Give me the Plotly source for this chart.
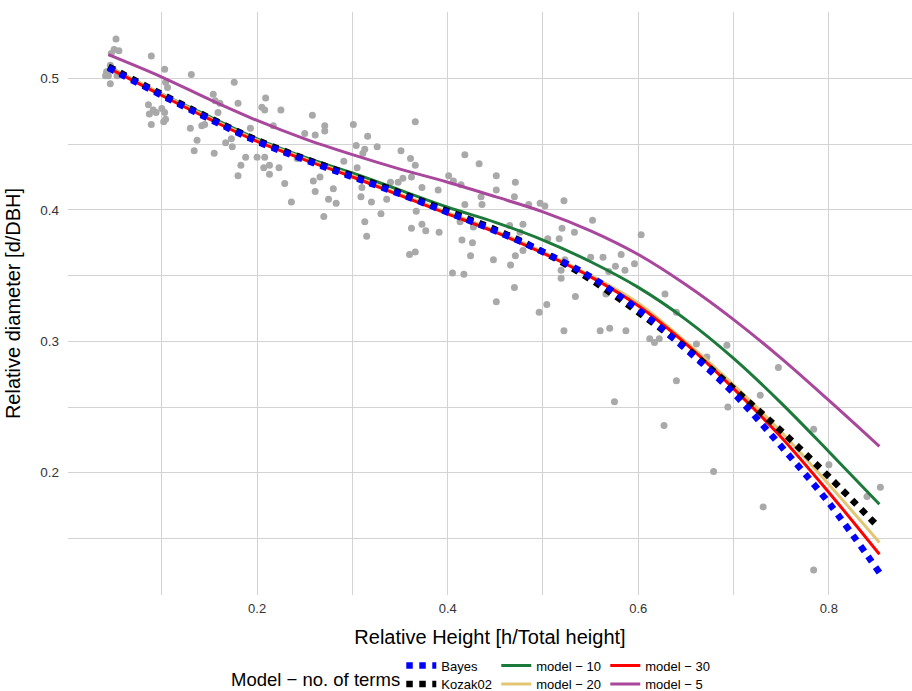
import plotly.graph_objects as go

# ---------------- data ----------------
obs_x = [0.052, 0.050, 0.055, 0.047, 0.046, 0.042, 0.044, 0.046, 0.041, 0.049, 0.053,
         0.089, 0.103, 0.131, 0.176, 0.104, 0.106, 0.086, 0.091, 0.087, 0.094, 0.100,
         0.103, 0.104, 0.102, 0.089, 0.154, 0.156, 0.161, 0.180, 0.159, 0.205, 0.208,
         0.209, 0.225, 0.217, 0.130, 0.142, 0.145, 0.137, 0.134, 0.155, 0.167, 0.173,
         0.174, 0.193, 0.188, 0.200, 0.208, 0.183, 0.180, 0.207, 0.213, 0.213, 0.223,
         0.229, 0.236,
         0.258, 0.271, 0.271, 0.261, 0.250, 0.301, 0.366, 0.316, 0.304, 0.313, 0.326,
         0.311, 0.351, 0.361, 0.366, 0.418, 0.433, 0.451, 0.291, 0.305, 0.242, 0.266,
         0.259, 0.261, 0.280, 0.275, 0.283, 0.270, 0.310, 0.309, 0.320, 0.336, 0.340,
         0.348, 0.353, 0.362, 0.373, 0.390, 0.401, 0.406, 0.414, 0.435, 0.436, 0.451,
         0.418, 0.367, 0.330, 0.313, 0.315, 0.362, 0.373, 0.377, 0.391, 0.413, 0.427,
         0.415, 0.426, 0.360, 0.366, 0.424, 0.448, 0.405, 0.417,
         0.471, 0.470, 0.485, 0.497, 0.502, 0.522, 0.552, 0.465, 0.479, 0.476, 0.520,
         0.533, 0.505, 0.517, 0.603, 0.479, 0.471, 0.466, 0.523, 0.550, 0.563, 0.582,
         0.576, 0.586, 0.596, 0.519, 0.519, 0.569, 0.470, 0.451, 0.534, 0.566, 0.504,
         0.496, 0.628, 0.640, 0.522, 0.560, 0.570, 0.587, 0.612, 0.617, 0.622, 0.661,
         0.672, 0.640, 0.575,
         0.693, 0.627, 0.679, 0.694, 0.728, 0.747, 0.731, 0.784, 0.800, 0.840, 0.854,
         0.784]
obs_y = [0.530, 0.522, 0.521, 0.519, 0.510, 0.505, 0.502, 0.496, 0.502, 0.507, 0.502,
         0.517, 0.507, 0.503, 0.497, 0.497, 0.493, 0.480, 0.476, 0.473, 0.474, 0.477,
         0.474, 0.469, 0.467, 0.465, 0.488, 0.483, 0.481, 0.481, 0.474, 0.478, 0.476,
         0.485, 0.476, 0.464, 0.462, 0.464, 0.465, 0.453, 0.445, 0.443, 0.451, 0.454,
         0.448, 0.462, 0.440, 0.440, 0.440, 0.434, 0.426, 0.432, 0.427, 0.434, 0.432,
         0.420, 0.406,
         0.472, 0.464, 0.460, 0.457, 0.458, 0.465, 0.467, 0.456, 0.449, 0.446, 0.448,
         0.443, 0.445, 0.439, 0.434, 0.442, 0.435, 0.426, 0.437, 0.432, 0.439, 0.425,
         0.422, 0.414, 0.416, 0.408, 0.405, 0.395, 0.417, 0.410, 0.406, 0.408, 0.421,
         0.421, 0.424, 0.425, 0.417, 0.415, 0.426, 0.422, 0.419, 0.410, 0.404, 0.415,
         0.404, 0.399, 0.397, 0.391, 0.380, 0.386, 0.389, 0.384, 0.383, 0.391, 0.387,
         0.377, 0.375, 0.366, 0.368, 0.365, 0.362, 0.352, 0.351,
         0.421, 0.410, 0.404, 0.405, 0.403, 0.407, 0.392, 0.388, 0.389, 0.383, 0.386,
         0.383, 0.378, 0.378, 0.381, 0.369, 0.365, 0.358, 0.362, 0.364, 0.364, 0.366,
         0.357, 0.354, 0.359, 0.354, 0.348, 0.353, 0.341, 0.330, 0.334, 0.336, 0.328,
         0.322, 0.336, 0.322, 0.308, 0.308, 0.310, 0.308, 0.302, 0.299, 0.302, 0.298,
         0.288, 0.270, 0.254,
         0.297, 0.236, 0.201, 0.250, 0.259, 0.280, 0.174, 0.233, 0.206, 0.182, 0.189,
         0.126]

curve_x = [0.044, 0.1, 0.15, 0.2, 0.25, 0.3, 0.35, 0.4, 0.45, 0.5, 0.55, 0.6,
           0.65, 0.7, 0.75, 0.8, 0.853]
bayes = [0.508, 0.487, 0.469, 0.452, 0.438, 0.425, 0.412, 0.398, 0.384, 0.368, 0.349,
         0.324, 0.294, 0.2605, 0.220, 0.177, 0.124]
kozak02 = [0.509, 0.488, 0.470, 0.453, 0.439, 0.426, 0.413, 0.399, 0.385, 0.368, 0.347,
           0.322, 0.295, 0.264, 0.2318, 0.197, 0.158]
model_10 = [0.509, 0.488, 0.471, 0.454, 0.440, 0.428, 0.415, 0.402, 0.3905, 0.377, 0.3605,
            0.341, 0.3165, 0.287, 0.253, 0.216, 0.176]
model_20 = [0.509, 0.488, 0.470, 0.453, 0.439, 0.426, 0.412, 0.398, 0.384, 0.368, 0.350,
            0.329, 0.2995, 0.2668, 0.231, 0.191, 0.147]
model_30 = [0.508, 0.487, 0.469, 0.452, 0.438, 0.425, 0.411, 0.397, 0.383, 0.367, 0.349,
            0.327, 0.298, 0.264, 0.227, 0.185, 0.138]
model_5 = [0.518, 0.501, 0.484, 0.468, 0.454, 0.442, 0.431, 0.421, 0.410, 0.3985, 0.384,
           0.366, 0.343, 0.3165, 0.287, 0.255, 0.220]

x_ticks = [0.2, 0.4, 0.6, 0.8]
x_tick_labels = ["0.2", "0.4", "0.6", "0.8"]
x_minor = [0.1, 0.3, 0.5, 0.7]
y_ticks = [0.2, 0.3, 0.4, 0.5]
y_tick_labels = ["0.2", "0.3", "0.4", "0.5"]
y_minor = [0.15, 0.25, 0.35, 0.45, 0.55]

# ---------------- figure ----------------
fig = go.Figure()
fig.add_trace(go.Scatter(x=obs_x, y=obs_y, mode="markers", showlegend=False,
                         marker=dict(color="#A9A9A9", size=7, line=dict(width=0))))

solid = [
    ("model − 10", model_10, "#1B7A3A", "legend", 64, 2),
    ("model − 20", model_20, "#E2C674", "legend2", 64, 2),
    ("model − 30", model_30, "#FF0000", "legend", 64, 3),
    ("model − 5", model_5, "#A8479C", "legend2", 64, 3),
]
for name, ys, col, leg, lw, rank in solid:
    fig.add_trace(go.Scatter(x=curve_x, y=ys, mode="lines", name=name, legend=leg,
                             legendwidth=lw, legendrank=rank,
                             line=dict(color=col, width=3, shape="spline", smoothing=1.0)))

fig.add_trace(go.Scatter(x=curve_x, y=kozak02, mode="lines", name="Kozak02",
                         legend="legend2", legendwidth=50, legendrank=1,
                         line=dict(color="#000000", width=6.5, dash="dot",
                                   shape="spline", smoothing=1.0)))
fig.add_trace(go.Scatter(x=curve_x, y=bayes, mode="lines", name="Bayes",
                         legend="legend", legendwidth=50, legendrank=1,
                         line=dict(color="#0000FF", width=6.5, dash="dot",
                                   shape="spline", smoothing=1.0)))

grid_col = "#D3D3D3"
font_family = "Liberation Sans, Arial, sans-serif"
leg_common = dict(orientation="h", xanchor="left", yanchor="middle",
                  xref="container", yref="container",
                  bgcolor="rgba(0,0,0,0)", font=dict(size=13, color="#000000",
                                                      family=font_family),
                  itemwidth=30, tracegroupgap=0, traceorder="normal")

fig.update_layout(
    width=912, height=691,
    margin=dict(l=68, r=0, t=12, b=96, autoexpand=False),
    paper_bgcolor="white", plot_bgcolor="white",
    font=dict(family=font_family, color="#000000"),
    xaxis=dict(range=[0.0016, 0.8872], tickvals=x_ticks, ticktext=x_tick_labels,
               automargin=False,
               showgrid=True, gridcolor=grid_col, gridwidth=1.4, zeroline=False,
               showline=False, ticks="", tickfont=dict(size=13, color="#333333"),
               ticklabelstandoff=4,
               minor=dict(tickvals=x_minor, showgrid=True, gridcolor=grid_col,
                          gridwidth=1.4, ticks=""),
               title=dict(text="Relative Height [h/Total height]",
                          font=dict(size=20, color="#000000"), standoff=14)),
    yaxis=dict(range=[0.107, 0.5505], tickvals=y_ticks, ticktext=y_tick_labels,
               automargin=False,
               showgrid=True, gridcolor=grid_col, gridwidth=1.4, zeroline=False,
               showline=False, ticks="", tickfont=dict(size=13.5, color="#333333"),
               ticklabelstandoff=8,
               minor=dict(tickvals=y_minor, showgrid=True, gridcolor=grid_col,
                          gridwidth=1.4, ticks=""),
               title=dict(text="Relative diameter [d/DBH]",
                          font=dict(size=20, color="#000000"), standoff=14)),
    legend=dict(x=0.4400, y=0.0369, **leg_common),
    legend2=dict(x=0.4400, y=0.0101, **leg_common),
    showlegend=True,
)

fig.add_annotation(text="Model − no. of terms", xref="paper", yref="paper",
                   x=0.3960, y=-0.1441, xanchor="right", yanchor="middle",
                   showarrow=False, font=dict(size=18.5, color="#000000"))

fig.write_html("out.html", config={"displayModeBar": False},
               post_script="document.body.style.margin='0';"
                           "document.body.style.overflow='hidden';")
